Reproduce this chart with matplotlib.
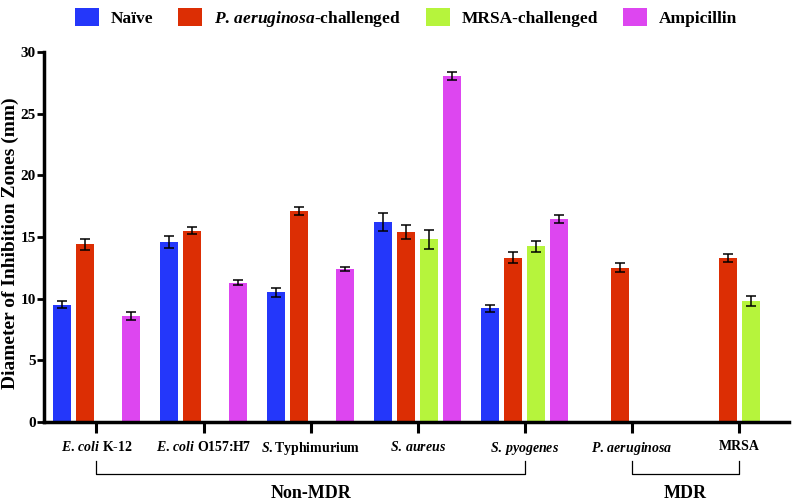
import numpy as np
import matplotlib.pyplot as plt
import matplotlib.transforms as mtransforms

plt.rcParams['font.family'] = 'Liberation Serif'
plt.rcParams['font.weight'] = 'bold'
plt.rcParams['mathtext.fontset'] = 'custom'
plt.rcParams['mathtext.it'] = 'Liberation Serif:italic:bold'
plt.rcParams['mathtext.rm'] = 'Liberation Serif:bold'

# data
strains = [r'$\mathit{E.\,coli}$ K-12', r'$\mathit{E.\,coli}$ O157:H7', r'$\mathit{S.}$Typhimurium',
           r'$\mathit{S.\,aureus}$', r'$\mathit{S.\,pyogenes}$', r'$\mathit{P.\,aeruginosa}$', 'MRSA']
series = ['Naïve', r'$\mathit{P.\,aeruginosa}$-challenged', 'MRSA-challenged', 'Ampicillin']
colors = ['#2437fa', '#dc2e04', '#b6f43c', '#dd46f0']

naive = [9.5, 14.6, 10.5, 16.2, 9.2, np.nan, np.nan]
naive_err = [0.3, 0.5, 0.4, 0.7, 0.25, 0, 0]
pa_chal = [14.4, 15.5, 17.1, 15.4, 13.3, 12.5, 13.3]
pa_chal_err = [0.45, 0.3, 0.3, 0.6, 0.45, 0.35, 0.35]
mrsa_chal = [np.nan, np.nan, np.nan, 14.8, 14.25, np.nan, 9.8]
mrsa_chal_err = [0, 0, 0, 0.75, 0.45, 0, 0.4]
ampicillin = [8.6, 11.3, 12.4, 28.05, 16.45, np.nan, np.nan]
ampicillin_err = [0.3, 0.2, 0.2, 0.35, 0.3, 0, 0]

values = [naive, pa_chal, mrsa_chal, ampicillin]
errors = [naive_err, pa_chal_err, mrsa_chal_err, ampicillin_err]

fig = plt.figure(figsize=(7.93, 5.03), dpi=100)
ax = fig.add_axes([0.0555, 0.161, 0.94, 0.736])

ind = np.arange(len(strains))
step = 0.215
width = 0.168

handles = []
for k in range(4):
    v = np.array(values[k], dtype=float)
    e = np.array(errors[k], dtype=float)
    ok = ~np.isnan(v)
    x = ind[ok] + (k - 1.5) * step
    rects = ax.bar(x, v[ok], width, color=colors[k], zorder=2)
    ax.errorbar(x, v[ok], yerr=e[ok], fmt='none', ecolor='black', elinewidth=1.1,
                capsize=3.5, capthick=1.1, zorder=3)
    handles.append(rects)

ax.set_xlim(-0.49, 6.47)
ax.set_ylim(0, 30)
ax.set_yticks(range(0, 31, 5))
ax.set_xticks(ind)
ax.set_xticklabels(strains, fontsize=10)
ax.tick_params(axis='y', labelsize=11, width=2, length=5, pad=1)
ax.tick_params(axis='x', width=2.2, length=8, pad=5)
for s in ['top', 'right']:
    ax.spines[s].set_visible(False)
for s in ['left', 'bottom']:
    ax.spines[s].set_linewidth(2.5)

fig.text(10 / 793, 1 - 243 / 503, 'Diameter of Inhibition Zones (mm)', rotation=90,
         ha='center', va='center', fontsize=14, fontweight='bold')

# group brackets
trans = mtransforms.blended_transform_factory(ax.transData, ax.transAxes)
for x0, x1, label in [(0, 4, 'Non-MDR'), (5, 6, 'MDR')]:
    ax.plot([x0, x0, x1, x1], [-0.105, -0.14, -0.14, -0.105], color='black', lw=0.9,
            transform=trans, clip_on=False)
    ax.text((x0 + x1) / 2, -0.192, label, transform=trans, ha='center', va='center',
            fontsize=13, fontweight='bold')

fig.legend(handles, series, loc='center', bbox_to_anchor=(0.512, 0.964), ncol=4,
           frameon=False, fontsize=12.5, handlelength=1.4, handleheight=1.25,
           columnspacing=1.4, handletextpad=0.7)

fig.savefig('out.png', dpi=100)
